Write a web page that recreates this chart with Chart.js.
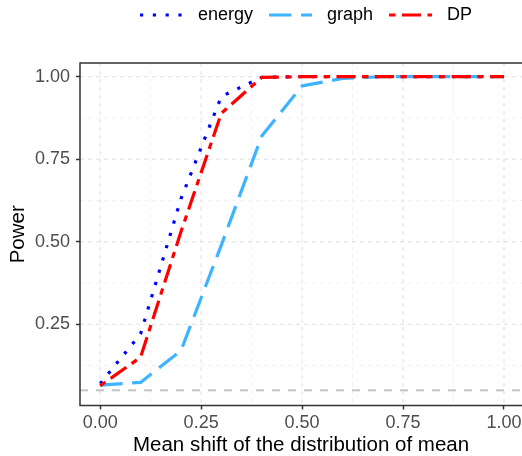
<!DOCTYPE html>
<html>
<head>
<meta charset="utf-8">
<script src="https://cdn.jsdelivr.net/npm/chart.js@4.4.1/dist/chart.umd.min.js"></script>
<style>
  html, body { margin: 0; padding: 0; background: #fff; overflow: hidden; }
  #wrap { width: 522px; height: 456px; }
</style>
</head>
<body>
<div id="wrap"><canvas id="powerChart" width="522" height="456"></canvas></div>
<script>
// mean shift values and power of each test
const shifts = [0, 0.1, 0.2, 0.3, 0.4, 0.5, 0.6, 0.7, 0.8, 0.9, 1.0];
const energyPower = [0.07, 0.221, 0.63, 0.94, 0.998, 1, 1, 1, 1, 1, 1];
const graphPower = [0.066, 0.074, 0.17, 0.49, 0.82, 0.972, 0.995, 1, 1, 1, 1];
const dpPower = [0.064, 0.15, 0.53, 0.889, 0.998, 1, 1, 1, 1, 1, 1];

const xBreaks = [0, 0.25, 0.5, 0.75, 1];
const xMinorBreaks = [0.125, 0.375, 0.625, 0.875];
const yBreaks = [0.25, 0.5, 0.75, 1];
const yMinorBreaks = [0.125, 0.375, 0.625, 0.875];
const alphaLevel = 0.05;

const FONT = '"Liberation Sans", Arial, Helvetica, sans-serif';

const toPoints = vals => shifts.map((s, i) => ({ x: s, y: vals[i] }));
const allTicks = (major, minor) => major.concat(minor).sort((a, b) => a - b).map(v => ({ value: v }));

// dashed panel grid + alpha reference line
const panelGrid = {
  id: 'panelGrid',
  beforeDatasetsDraw(chart) {
    const { ctx, chartArea: a, scales: { x, y } } = chart;
    ctx.save();
    ctx.setLineDash([4, 4]);
    const vline = (v, color, w) => {
      const px = x.getPixelForValue(v);
      ctx.strokeStyle = color; ctx.lineWidth = w;
      ctx.beginPath(); ctx.moveTo(px, a.top); ctx.lineTo(px, a.bottom); ctx.stroke();
    };
    const hline = (v, color, w) => {
      const py = y.getPixelForValue(v);
      ctx.strokeStyle = color; ctx.lineWidth = w;
      ctx.beginPath(); ctx.moveTo(a.left, py); ctx.lineTo(a.right, py); ctx.stroke();
    };
    xMinorBreaks.forEach(v => vline(v, '#efefef', 0.8));
    yMinorBreaks.forEach(v => hline(v, '#efefef', 0.8));
    xBreaks.forEach(v => vline(v, '#e2e2e2', 1.1));
    yBreaks.forEach(v => hline(v, '#e2e2e2', 1.1));
    ctx.setLineDash([8, 8]);
    hline(alphaLevel, '#c4c4c4', 2);
    ctx.restore();
  },
  afterDatasetsDraw(chart) {
    // panel frame: the right side falls outside the window, like the reference
    const { ctx, chartArea: a } = chart;
    ctx.save();
    ctx.strokeStyle = '#333';
    ctx.lineWidth = 1.5;
    ctx.beginPath();
    ctx.moveTo(a.right, a.top); ctx.lineTo(a.left, a.top);
    ctx.lineTo(a.left, a.bottom); ctx.lineTo(a.right, a.bottom);
    ctx.stroke();
    ctx.restore();
  }
};

// ggplot style legend on top: line keys followed by labels
const topLegend = {
  id: 'topLegend',
  afterDraw(chart) {
    const ctx = chart.ctx;
    const keyW = 43, keyGap = 15, itemGap = 16, cy = 15;
    let x0 = 140;
    ctx.save();
    ctx.font = '18px ' + FONT;
    ctx.textBaseline = 'middle';
    chart.data.datasets.forEach(ds => {
      ctx.strokeStyle = ds.borderColor;
      ctx.lineWidth = ds.borderWidth;
      ctx.lineCap = 'butt';
      ctx.setLineDash(ds.borderDash);
      ctx.beginPath(); ctx.moveTo(x0, cy); ctx.lineTo(x0 + keyW, cy); ctx.stroke();
      ctx.setLineDash([]);
      ctx.fillStyle = '#000';
      ctx.fillText(ds.label, x0 + keyW + keyGap, cy);
      x0 += keyW + keyGap + ctx.measureText(ds.label).width + itemGap;
    });
    ctx.restore();
  }
};

new Chart(document.getElementById('powerChart'), {
  type: 'line',
  data: {
    datasets: [
      { label: 'energy', data: toPoints(energyPower), borderColor: '#0000ff', borderWidth: 3.2, borderDash: [3.2, 9.6], order: 3 },
      { label: 'graph', data: toPoints(graphPower), borderColor: '#3db4ff', borderWidth: 3.2, borderDash: [22.4, 9.6], order: 2 },
      { label: 'DP', data: toPoints(dpPower), borderColor: '#ff0000', borderWidth: 3.2, borderDash: [6.4, 6.4, 19.2, 6.4], order: 1 }
    ]
  },
  options: {
    responsive: false,
    animation: false,
    devicePixelRatio: 1,
    elements: {
      line: { tension: 0, borderCapStyle: 'butt', borderJoinStyle: 'round', fill: false },
      point: { radius: 0, hoverRadius: 0 }
    },
    layout: { padding: { left: 0, right: 0, top: 63, bottom: 0 } },
    plugins: { legend: { display: false }, tooltip: { enabled: false } },
    scales: {
      x: {
        type: 'linear', min: -0.05, max: 1.0446,
        afterBuildTicks: s => { s.ticks = allTicks(xBreaks, xMinorBreaks); },
        afterFit: s => { s.height = 50.5; s.paddingLeft = 0; s.paddingRight = 0; },
        ticks: {
          autoSkip: false, maxRotation: 0, padding: 3, color: '#4d4d4d',
          font: { family: FONT, size: 18 },
          callback: v => xBreaks.includes(v) ? v.toFixed(2) : ''
        },
        grid: {
          drawOnChartArea: false, tickLength: 4, tickWidth: 1.5,
          tickColor: c => xBreaks.includes(c.tick.value) ? '#333' : 'rgba(0,0,0,0)'
        },
        border: { display: false },
        title: {
          display: true, text: 'Mean shift of the distribution of mean', color: '#000',
          font: { family: FONT, size: 20.5, lineHeight: 1 }, padding: 0
        }
      },
      y: {
        type: 'linear', min: 0.004, max: 1.0415,
        afterBuildTicks: s => { s.ticks = allTicks(yBreaks, yMinorBreaks); },
        afterFit: s => { s.width = 80; s.paddingTop = 0; s.paddingBottom = 0; },
        ticks: {
          autoSkip: false, padding: 6, color: '#4d4d4d',
          font: { family: FONT, size: 18 },
          callback: v => yBreaks.includes(v) ? v.toFixed(2) : ''
        },
        grid: {
          drawOnChartArea: false, tickLength: 4, tickWidth: 1.5,
          tickColor: c => yBreaks.includes(c.tick.value) ? '#333' : 'rgba(0,0,0,0)'
        },
        border: { display: false },
        title: {
          display: true, text: 'Power', color: '#000',
          font: { family: FONT, size: 20.5, lineHeight: 1 }, padding: { top: 8, bottom: 0 }
        }
      }
    }
  },
  plugins: [panelGrid, topLegend]
});
</script>
</body>
</html>
